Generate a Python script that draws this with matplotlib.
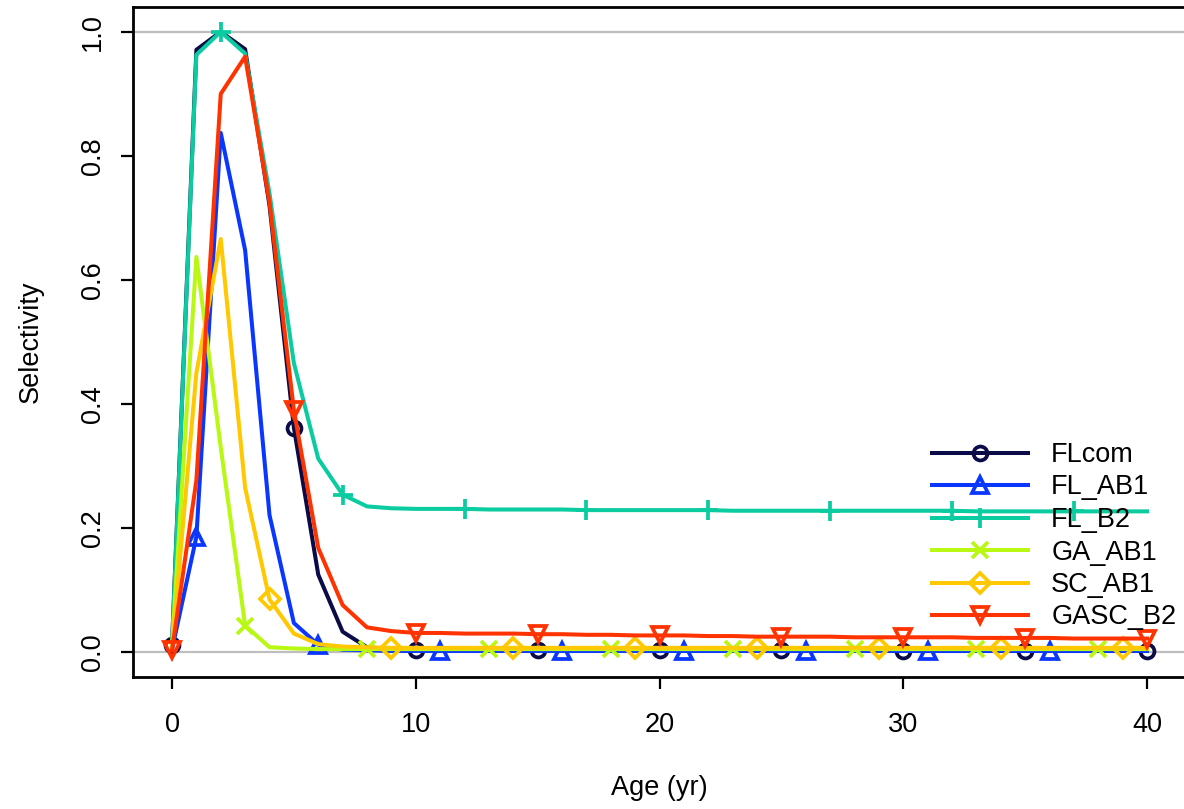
import numpy as np
import matplotlib
matplotlib.use("Agg")
import matplotlib.pyplot as plt

plt.rcParams['font.family'] = ['Liberation Sans', 'DejaVu Sans']

# ages 0..40, values
ages = list(range(41))

fl_com = [0.012, 0.971, 1.000, 0.972, 0.720, 0.362, 0.125, 0.033, 0.008, 0.005,
          0.004, 0.004, 0.004, 0.004, 0.004, 0.004, 0.004, 0.004, 0.004, 0.004,
          0.003, 0.003, 0.003, 0.003, 0.003, 0.003, 0.003, 0.003, 0.003, 0.003,
          0.002, 0.002, 0.002, 0.002, 0.002, 0.002, 0.002, 0.002, 0.002, 0.002,
          0.002]

fl_ab1 = [0.004, 0.186, 0.837, 0.648, 0.221, 0.047, 0.012, 0.004, 0.003, 0.002,
          0.002, 0.002, 0.002, 0.002, 0.002, 0.002, 0.002, 0.002, 0.002, 0.002,
          0.002, 0.002, 0.002, 0.002, 0.002, 0.002, 0.002, 0.002, 0.002, 0.002,
          0.002, 0.002, 0.002, 0.002, 0.002, 0.002, 0.002, 0.002, 0.002, 0.002,
          0.002]

fl_b2 = [0.010, 0.963, 1.000, 0.965, 0.740, 0.466, 0.312, 0.254, 0.235, 0.232,
         0.231, 0.231, 0.231, 0.230, 0.230, 0.230, 0.230, 0.229, 0.229, 0.229,
         0.229, 0.229, 0.229, 0.228, 0.228, 0.228, 0.228, 0.228, 0.228, 0.228,
         0.228, 0.228, 0.228, 0.227, 0.227, 0.227, 0.227, 0.227, 0.227, 0.227,
         0.227]

ga_ab1 = [0.010, 0.637, 0.330, 0.043, 0.008, 0.006, 0.005, 0.005, 0.005, 0.005,
          0.005, 0.005, 0.005, 0.005, 0.005, 0.005, 0.005, 0.005, 0.005, 0.005,
          0.005, 0.005, 0.005, 0.005, 0.005, 0.005, 0.005, 0.005, 0.005, 0.005,
          0.005, 0.005, 0.005, 0.005, 0.005, 0.005, 0.005, 0.005, 0.005, 0.005,
          0.005]

sc_ab1 = [0.005, 0.450, 0.666, 0.265, 0.085, 0.030, 0.013, 0.009, 0.008, 0.007,
          0.007, 0.007, 0.007, 0.007, 0.007, 0.007, 0.007, 0.007, 0.007, 0.007,
          0.007, 0.007, 0.007, 0.007, 0.007, 0.007, 0.007, 0.007, 0.007, 0.007,
          0.007, 0.007, 0.007, 0.007, 0.007, 0.007, 0.007, 0.007, 0.007, 0.007,
          0.007]

gasc_b2 = [0.003, 0.277, 0.900, 0.960, 0.725, 0.390, 0.168, 0.076, 0.040, 0.034,
           0.031, 0.031, 0.030, 0.030, 0.030, 0.029, 0.029, 0.028, 0.028, 0.027,
           0.027, 0.027, 0.026, 0.026, 0.025, 0.025, 0.025, 0.025, 0.024, 0.024,
           0.024, 0.024, 0.024, 0.023, 0.023, 0.023, 0.023, 0.022, 0.022, 0.022,
           0.022]

names = ["FLcom", "FL_AB1", "FL_B2", "GA_AB1", "SC_AB1", "GASC_B2"]
series = [fl_com, fl_ab1, fl_b2, ga_ab1, sc_ab1, gasc_b2]
colors = ["#0b0b48", "#0a37ff", "#0acca0", "#b8f812", "#ffc800", "#ff3300"]
markers = ["o", "^", "+", "x", "D", "v"]
msizes = [10, 11.5, 15, 11, 10, 11.5]
starts = [0, 1, 2, 3, 4, 0]

fig = plt.figure(figsize=(11.84, 8.09), dpi=100)
ax = fig.add_axes([133 / 1184, 1 - 677 / 809, 1053 / 1184, 670 / 809])

ax.axhline(0, color="#bebebe", lw=1.6, zorder=1)
ax.axhline(1, color="#bebebe", lw=1.6, zorder=1)

for name, vals, col, mk, ms, st in zip(names, series, colors, markers, msizes, starts):
    ax.plot(ages, vals, color=col, lw=2.9, marker=mk, markersize=ms,
            markevery=(st, 5), fillstyle="none", markeredgewidth=2.7,
            label=name, zorder=2)

ax.set_xlim(-1.6, 41.6)
ax.set_ylim(-0.04, 1.04)
ax.set_xticks([0, 10, 20, 30, 40])
ax.set_yticks([0.0, 0.2, 0.4, 0.6, 0.8, 1.0])
ax.set_yticklabels(["0.0", "0.2", "0.4", "0.6", "0.8", "1.0"])

for s in ax.spines.values():
    s.set_linewidth(2.0)
ax.spines["right"].set_visible(False)

ax.tick_params(length=8.5, width=1.6, labelsize=19.5)
ax.tick_params(axis="x", pad=17)
ax.tick_params(axis="y", pad=11, labelrotation=90)
for lab in ax.get_yticklabels():
    lab.set_va("center")

ax.set_xlabel("Age (yr)", fontsize=19.5, labelpad=26)
ax.set_ylabel("Selectivity", fontsize=19.5, labelpad=26)

ax.legend(loc="upper left", bbox_to_anchor=(932 / 1184, 1 - 442 / 809),
          bbox_transform=fig.transFigure, frameon=False, fontsize=19.5,
          handlelength=3.55, handletextpad=0.85, labelspacing=0.24,
          borderpad=0, borderaxespad=0, numpoints=1)

fig.savefig("out.png", dpi=100)
